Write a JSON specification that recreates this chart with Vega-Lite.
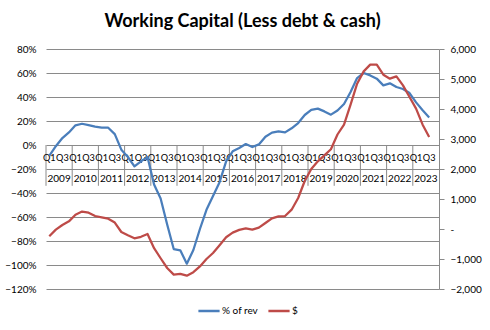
{
  "$schema": "https://vega.github.io/schema/vega-lite/v6.json",
  "autosize": {"type": "none"},
  "width": 393,
  "height": 240,
  "padding": {"left": 46, "top": 49, "right": 51, "bottom": 41},
  "background": "white",
  "config": {
    "view": {"stroke": null},
    "font": "Lato",
    "title": {"font": "Lato", "fontSize": 18, "fontWeight": "bold", "color": "#000000", "anchor": "middle", "offset": 13}
  },
  "title": "Working Capital (Less debt & cash)",
  "data": {"values": [
    {"p": "2009Q1", "year": "2009", "q": "Q1", "pct": -0.09, "usd": -244},
    {"p": "2009Q2", "year": "2009", "q": "Q2", "pct": -0.01, "usd": -22},
    {"p": "2009Q3", "year": "2009", "q": "Q3", "pct": 0.058, "usd": 133},
    {"p": "2009Q4", "year": "2009", "q": "Q4", "pct": 0.105, "usd": 255},
    {"p": "2010Q1", "year": "2010", "q": "Q1", "pct": 0.164, "usd": 477},
    {"p": "2010Q2", "year": "2010", "q": "Q2", "pct": 0.177, "usd": 580},
    {"p": "2010Q3", "year": "2010", "q": "Q3", "pct": 0.166, "usd": 543},
    {"p": "2010Q4", "year": "2010", "q": "Q4", "pct": 0.153, "usd": 433},
    {"p": "2011Q1", "year": "2011", "q": "Q1", "pct": 0.144, "usd": 388},
    {"p": "2011Q2", "year": "2011", "q": "Q2", "pct": 0.144, "usd": 343},
    {"p": "2011Q3", "year": "2011", "q": "Q3", "pct": 0.091, "usd": 215},
    {"p": "2011Q4", "year": "2011", "q": "Q4", "pct": -0.039, "usd": -100},
    {"p": "2012Q1", "year": "2012", "q": "Q1", "pct": -0.10, "usd": -211},
    {"p": "2012Q2", "year": "2012", "q": "Q2", "pct": -0.178, "usd": -311},
    {"p": "2012Q3", "year": "2012", "q": "Q3", "pct": -0.136, "usd": -260},
    {"p": "2012Q4", "year": "2012", "q": "Q4", "pct": -0.10, "usd": -167},
    {"p": "2013Q1", "year": "2013", "q": "Q1", "pct": -0.33, "usd": -640},
    {"p": "2013Q2", "year": "2013", "q": "Q2", "pct": -0.445, "usd": -975},
    {"p": "2013Q3", "year": "2013", "q": "Q3", "pct": -0.663, "usd": -1300},
    {"p": "2013Q4", "year": "2013", "q": "Q4", "pct": -0.867, "usd": -1520},
    {"p": "2014Q1", "year": "2014", "q": "Q1", "pct": -0.878, "usd": -1495},
    {"p": "2014Q2", "year": "2014", "q": "Q2", "pct": -0.989, "usd": -1556},
    {"p": "2014Q3", "year": "2014", "q": "Q3", "pct": -0.875, "usd": -1440},
    {"p": "2014Q4", "year": "2014", "q": "Q4", "pct": -0.70, "usd": -1247},
    {"p": "2015Q1", "year": "2015", "q": "Q1", "pct": -0.54, "usd": -1000},
    {"p": "2015Q2", "year": "2015", "q": "Q2", "pct": -0.425, "usd": -800},
    {"p": "2015Q3", "year": "2015", "q": "Q3", "pct": -0.31, "usd": -540},
    {"p": "2015Q4", "year": "2015", "q": "Q4", "pct": -0.136, "usd": -275},
    {"p": "2016Q1", "year": "2016", "q": "Q1", "pct": -0.053, "usd": -120},
    {"p": "2016Q2", "year": "2016", "q": "Q2", "pct": -0.025, "usd": -30},
    {"p": "2016Q3", "year": "2016", "q": "Q3", "pct": 0.008, "usd": 22},
    {"p": "2016Q4", "year": "2016", "q": "Q4", "pct": -0.017, "usd": -22},
    {"p": "2017Q1", "year": "2017", "q": "Q1", "pct": 0.005, "usd": 44},
    {"p": "2017Q2", "year": "2017", "q": "Q2", "pct": 0.069, "usd": 200},
    {"p": "2017Q3", "year": "2017", "q": "Q3", "pct": 0.103, "usd": 355},
    {"p": "2017Q4", "year": "2017", "q": "Q4", "pct": 0.114, "usd": 422},
    {"p": "2018Q1", "year": "2018", "q": "Q1", "pct": 0.105, "usd": 433},
    {"p": "2018Q2", "year": "2018", "q": "Q2", "pct": 0.139, "usd": 644},
    {"p": "2018Q3", "year": "2018", "q": "Q3", "pct": 0.183, "usd": 1033},
    {"p": "2018Q4", "year": "2018", "q": "Q4", "pct": 0.25, "usd": 1600},
    {"p": "2019Q1", "year": "2019", "q": "Q1", "pct": 0.292, "usd": 2000},
    {"p": "2019Q2", "year": "2019", "q": "Q2", "pct": 0.303, "usd": 2255},
    {"p": "2019Q3", "year": "2019", "q": "Q3", "pct": 0.28, "usd": 2455},
    {"p": "2019Q4", "year": "2019", "q": "Q4", "pct": 0.253, "usd": 2660},
    {"p": "2020Q1", "year": "2020", "q": "Q1", "pct": 0.287, "usd": 3150},
    {"p": "2020Q2", "year": "2020", "q": "Q2", "pct": 0.342, "usd": 3480},
    {"p": "2020Q3", "year": "2020", "q": "Q3", "pct": 0.442, "usd": 4144},
    {"p": "2020Q4", "year": "2020", "q": "Q4", "pct": 0.558, "usd": 4844},
    {"p": "2021Q1", "year": "2021", "q": "Q1", "pct": 0.60, "usd": 5255},
    {"p": "2021Q2", "year": "2021", "q": "Q2", "pct": 0.58, "usd": 5478},
    {"p": "2021Q3", "year": "2021", "q": "Q3", "pct": 0.553, "usd": 5478},
    {"p": "2021Q4", "year": "2021", "q": "Q4", "pct": 0.497, "usd": 5144},
    {"p": "2022Q1", "year": "2022", "q": "Q1", "pct": 0.514, "usd": 5011},
    {"p": "2022Q2", "year": "2022", "q": "Q2", "pct": 0.483, "usd": 5088},
    {"p": "2022Q3", "year": "2022", "q": "Q3", "pct": 0.467, "usd": 4788},
    {"p": "2022Q4", "year": "2022", "q": "Q4", "pct": 0.433, "usd": 4400},
    {"p": "2023Q1", "year": "2023", "q": "Q1", "pct": 0.355, "usd": 4011},
    {"p": "2023Q2", "year": "2023", "q": "Q2", "pct": 0.289, "usd": 3478},
    {"p": "2023Q3", "year": "2023", "q": "Q3", "pct": 0.23, "usd": 3067},
    {"p": "2023Q4", "year": "2023", "q": "Q4", "pct": null, "usd": null}
  ]},
  "encoding": {
    "x": {"field": "p", "type": "ordinal",
          "scale": {"type": "band", "paddingInner": 0, "paddingOuter": 0},
          "axis": null}
  },
  "layer": [
    {
      "mark": {"type": "rule", "color": "#8a8a8a", "strokeWidth": 1},
      "transform": [{"filter": "datum.q === 'Q1'"}],
      "encoding": {
        "x": {"field": "p", "type": "ordinal", "bandPosition": 0, "axis": null},
        "y": {"datum": 0, "type": "quantitative", "scale": {"domain": [-1.2, 0.8], "nice": false, "zero": false}, "axis": null},
        "y2": {"datum": -0.34}
      }
    },
    {
      "mark": {"type": "text", "fontSize": 9.2, "font": "Lato", "color": "#000000", "dy": 13, "baseline": "middle"},
      "transform": [{"filter": "datum.q === 'Q1' || datum.q === 'Q3'"}],
      "encoding": {
        "x": {"field": "p", "type": "ordinal", "bandPosition": 0.5, "axis": null},
        "y": {"datum": 0, "type": "quantitative", "scale": {"domain": [-1.2, 0.8], "nice": false, "zero": false}, "axis": null},
        "text": {"field": "q"}
      }
    },
    {
      "mark": {"type": "text", "fontSize": 10, "font": "Lato", "color": "#000000", "dy": 34, "baseline": "middle"},
      "transform": [{"filter": "datum.q === 'Q2'"}],
      "encoding": {
        "x": {"field": "p", "type": "ordinal", "bandPosition": 1, "axis": null},
        "y": {"datum": 0, "type": "quantitative", "scale": {"domain": [-1.2, 0.8], "nice": false, "zero": false}, "axis": null},
        "text": {"field": "year"}
      }
    },
    {
      "mark": {"type": "line", "strokeWidth": 2.25, "strokeJoin": "round"},
      "encoding": {
        "x": {"field": "p", "type": "ordinal", "bandPosition": 0.5, "axis": null},
        "y": {"field": "pct", "type": "quantitative",
              "scale": {"domain": [-1.2, 0.8], "nice": false, "zero": false},
              "axis": {"orient": "left", "title": null, "values": [-1.2, -1, -0.8, -0.6, -0.4, -0.2, 0, 0.2, 0.4, 0.6, 0.8],
                       "format": ".0%", "grid": true, "gridColor": "#8a8a8a", "gridOpacity": 1, "domain": false, "ticks": false,
                       "labelPadding": 10, "labelFont": "Lato", "labelFontSize": 10, "labelColor": "#000000"}},
        "color": {"datum": "% of rev", "type": "nominal",
                  "scale": {"domain": ["% of rev", "$"], "range": ["#4a7ebb", "#be4b48"]},
                  "legend": {"orient": "none", "legendX": 151, "legendY": 250, "direction": "horizontal", "title": null,
                             "symbolType": "stroke", "symbolSize": 450, "symbolStrokeWidth": 2.5,
                             "labelFont": "Lato", "labelFontSize": 10, "labelColor": "#000000", "columnPadding": 5, "labelOffset": 1}}
      }
    },
    {
      "mark": {"type": "line", "strokeWidth": 2.25, "strokeJoin": "round"},
      "encoding": {
        "x": {"field": "p", "type": "ordinal", "bandPosition": 0.5, "axis": null},
        "y": {"field": "usd", "type": "quantitative",
              "scale": {"domain": [-2000, 6000], "nice": false, "zero": false},
              "axis": {"orient": "right", "title": null, "values": [-2000, -1000, 0, 1000, 2000, 3000, 4000, 5000, 6000],
                       "labelExpr": "datum.value === 0 ? '-' : format(datum.value, ',')",
                       "grid": false, "domain": true, "domainColor": "#8a8a8a", "ticks": true, "tickSize": 5, "tickColor": "#8a8a8a",
                       "labelPadding": 6, "labelFont": "Lato", "labelFontSize": 10, "labelColor": "#000000", "labelAlign": "left"}},
        "color": {"datum": "$", "type": "nominal"}
      }
    }
  ],
  "resolve": {"scale": {"y": "independent"}}
}
